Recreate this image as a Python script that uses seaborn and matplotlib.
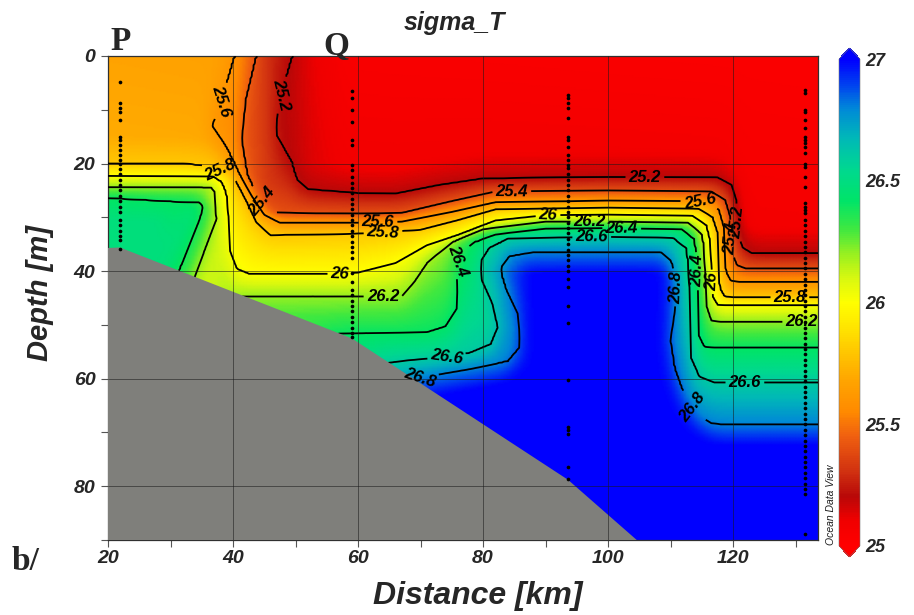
import numpy as np
import pandas as pd
import matplotlib
matplotlib.use("Agg")
import matplotlib.pyplot as plt
from matplotlib.colors import LinearSegmentedColormap, Normalize
from matplotlib.cm import ScalarMappable
from matplotlib.patches import Polygon
import seaborn as sns

# ---------------------------------------------------------------- data
levels = [25.2, 25.4, 25.6, 25.8, 26.0, 26.2, 26.4, 26.6, 26.8]

# isopycnal traces along the section: (distance km, depth m)
iso_25_2 = [(49.6, -1.0), (47.3, 8.7), (46.8, 14.4), (49.2, 19.4), (50.2, 23.0), (52.0, 24.8),
            (60.0, 25.5), (66.0, 25.6), (73.0, 24.0), (80.0, 22.8), (100.0, 22.5), (117.5, 22.6),
            (119.8, 24.0), (120.6, 27.0), (120.8, 33.0), (121.5, 35.6), (123.0, 36.7), (136.0, 36.7)]
iso_25_4 = [(43.8, -1.0), (42.0, 8.0), (41.4, 15.6), (42.2, 22.0), (44.0, 26.5), (46.5, 29.2),
            (60.0, 29.3), (67.0, 29.2), (75.0, 27.0), (82.0, 25.2), (100.0, 25.0), (116.5, 25.2),
            (118.8, 26.8), (119.6, 30.0), (119.8, 36.5), (120.6, 38.9), (122.0, 39.5), (136.0, 39.5)]
iso_25_6 = [(40.4, -1.0), (37.8, 9.5), (36.7, 13.0), (38.9, 17.0), (41.0, 22.0), (43.0, 26.0),
            (45.0, 29.5), (47.5, 31.0), (60.0, 31.0), (67.0, 30.8), (75.0, 29.0), (82.0, 27.2),
            (100.0, 26.9), (115.5, 27.0), (117.8, 28.6), (118.6, 32.0), (118.8, 40.0), (119.6, 41.8),
            (121.0, 42.0), (136.0, 42.0)]
iso_25_8 = [(19.0, 20.0), (32.0, 20.0), (36.5, 20.6), (39.2, 21.8), (40.4, 23.0), (42.2, 27.0),
            (43.8, 31.0), (46.0, 33.3), (60.0, 33.0), (66.0, 32.6), (70.0, 32.3), (76.0, 30.5),
            (82.0, 28.5), (100.0, 28.2), (114.5, 28.4), (116.8, 30.0), (117.6, 33.0), (117.8, 43.0),
            (118.6, 44.7), (120.0, 44.9), (136.0, 44.9)]
iso_26_0 = [(19.0, 22.3), (36.8, 22.4), (38.2, 23.3), (39.0, 25.5), (39.3, 30.0), (39.5, 36.2),
            (40.6, 39.6), (42.5, 40.5), (57.0, 40.5), (60.0, 40.3), (66.0, 38.5), (71.0, 35.2),
            (76.0, 33.3), (82.0, 30.6), (90.0, 29.6), (100.0, 29.5), (113.5, 29.7), (115.8, 31.5),
            (116.5, 35.0), (116.6, 44.5), (117.5, 46.3), (136.0, 46.3)]
iso_26_2_pool = [(19.0, 24.4), (36.5, 24.4), (37.2, 25.4), (37.3, 30.5), (34.1, 40.4), (32.0, 47.0)]
iso_26_2 = [(37.5, 47.5), (41.5, 44.7), (67.0, 44.7), (69.0, 42.0), (71.0, 38.5), (75.0, 34.6),
            (80.0, 32.2), (90.0, 30.8), (100.0, 30.8), (112.8, 31.0), (115.0, 33.0), (115.5, 36.0),
            (115.6, 46.0), (116.5, 49.2), (118.0, 49.4), (136.0, 49.4)]
iso_26_4_pool = [(19.0, 26.3), (30.0, 27.0), (34.6, 27.2), (35.2, 28.0), (34.6, 30.5), (31.4, 40.0),
                 (29.5, 46.0)]
iso_26_4 = [(53.0, 53.0), (57.0, 51.6), (71.0, 51.4), (74.0, 50.3), (75.8, 47.0), (76.0, 43.0),
            (75.6, 39.0), (76.5, 36.5), (78.5, 34.6), (82.0, 33.2), (90.0, 32.1), (100.0, 32.0),
            (111.8, 32.2), (113.8, 34.0), (114.4, 38.0), (114.5, 52.0), (115.4, 54.1), (117.0, 54.2),
            (136.0, 54.2)]
iso_26_6 = [(61.5, 59.0), (64.5, 57.1), (68.0, 56.6), (74.0, 56.0), (78.0, 55.2), (81.3, 53.6),
            (82.3, 50.5), (81.5, 46.0), (79.8, 41.5), (79.6, 38.2), (81.0, 35.6), (84.0, 33.9),
            (100.0, 33.6), (110.5, 33.8), (112.6, 35.8), (113.0, 40.0), (113.2, 56.0), (114.6, 59.6),
            (117.0, 60.7), (136.0, 60.7)]
iso_26_8 = [(66.0, 63.0), (68.5, 60.2), (72.0, 59.4), (78.0, 58.2), (84.0, 56.8), (86.0, 54.0),
            (85.6, 48.0), (83.8, 43.5), (82.8, 39.5), (84.2, 37.2), (88.0, 36.5), (108.5, 36.5),
            (110.2, 38.2), (111.0, 42.0), (110.6, 48.0), (110.0, 53.0), (110.6, 58.0), (112.0, 62.5),
            (114.0, 66.4), (116.5, 68.3), (118.0, 68.5), (136.0, 68.5)]

isopycnals = [(25.2, iso_25_2), (25.4, iso_25_4), (25.6, iso_25_6), (25.8, iso_25_8),
              (26.0, iso_26_0), (26.2, iso_26_2_pool), (26.2, iso_26_2), (26.4, iso_26_4_pool),
              (26.4, iso_26_4), (26.6, iso_26_6), (26.8, iso_26_8)]

# sigma-T at the sea surface and in the deepest water along the section
surf_km = [19.5, 37.5, 40.2, 40.6, 42.1, 43.6, 44.0, 45.5, 47.5, 49.4, 49.8, 52.0, 58.0, 136.0]
surf_sigma = [25.67, 25.66, 25.62, 25.58, 25.50, 25.42, 25.38, 25.30, 25.24, 25.21, 25.19, 25.12,
              25.05, 25.03]
deep_km = [19.5, 30.8, 31.8, 39.4, 39.8, 52.5, 53.5, 61.0, 62.0, 65.5, 66.5, 136.0]
deep_sigma = [26.48, 26.48, 26.10, 26.10, 26.30, 26.30, 26.50, 26.50, 26.70, 26.70, 27.00, 27.00]

# sea floor
bathy_km = [18.0, 21.9, 59.0, 93.6, 104.6, 140.0]
bathy_m = [35.8, 35.6, 52.5, 78.8, 90.0, 90.0]

# CTD stations and their sample depths
station_km = [21.9, 59.0, 93.6, 131.5]
depths_P = [4.8, 8.8, 9.7, 10.4, 11.9, 15.0, 15.6, 16.6, 17.5, 18.4, 19.3, 20.0, 21.0, 22.0, 23.0,
            24.0, 25.0, 26.0, 27.0, 28.0, 29.0, 30.5, 31.5, 32.5, 33.5, 34.2, 35.8]
depths_Q = [6.6, 7.8, 10.0, 12.2, 15.6, 16.6, 20.3, 21.2, 22.5, 23.7, 24.5, 25.5, 26.5, 27.5, 28.5,
            29.5, 30.5, 31.5, 32.5, 33.5, 34.5, 35.5, 36.5, 37.5, 40.4, 42.0, 43.6, 44.5, 45.5,
            46.5, 47.5, 48.5, 49.5, 50.5, 51.5, 52.3]
depths_3 = [7.3, 7.9, 8.8, 9.7, 11.5, 15.0, 15.6, 16.9, 18.4, 19.4, 20.3, 20.9, 22.0, 23.0, 24.0,
            25.0, 26.0, 27.0, 28.0, 29.0, 30.0, 31.0, 32.0, 33.0, 34.0, 35.0, 36.0, 37.0, 38.0,
            39.0, 40.0, 41.4, 43.0, 46.4, 49.7, 60.3, 69.0, 69.6, 70.2, 76.5, 78.6]
depths_4 = [6.3, 6.9, 10.0, 10.4, 11.9, 13.4, 15.0, 15.6, 16.2, 16.9, 18.1, 20.0, 20.6, 22.5, 24.4,
            27.4, 28.1, 28.7, 29.2, 30.5, 31.5, 32.5, 33.5, 34.5, 35.5, 36.5, 37.5, 38.5, 39.5,
            40.5, 41.5, 42.5, 43.5, 44.5, 45.5, 46.5, 47.5, 48.5, 49.5, 50.5, 51.5, 52.5, 53.5,
            54.5, 55.5, 56.5, 57.5, 58.5, 59.5, 60.5, 61.5, 62.5, 63.5, 64.5, 65.5, 66.5, 67.5,
            68.5, 69.5, 70.5, 71.5, 72.5, 73.5, 74.5, 75.5, 76.5, 77.5, 78.5, 79.5, 80.5, 81.5, 88.8]
station_depths = [depths_P, depths_Q, depths_3, depths_4]

# where the contour values are written on the lines
label_spots = {
    25.2: [(48.0, 7.3), (105.9, 22.6), (120.7, 31.0)],
    25.4: [(44.2, 27.6), (84.6, 25.1), (119.7, 34.0)],
    25.6: [(38.4, 8.5), (63.2, 30.9), (114.7, 27.0)],
    25.8: [(38.0, 21.2), (64.0, 32.8), (129.1, 44.9)],
    26.0: [(57.1, 40.5), (90.4, 29.6), (116.6, 42.0)],
    26.2: [(64.0, 44.7), (97.1, 30.8), (131.0, 49.4)],
    26.4: [(75.9, 38.0), (102.2, 32.0), (114.4, 40.0)],
    26.6: [(74.2, 56.0), (97.4, 33.6), (121.9, 60.7)],
    26.8: [(69.9, 60.0), (111.0, 43.0), (113.9, 65.0)],
}

# ---------------------------------------------------------------- gridding
xs = 19.537 + 0.25 * np.arange(460)
zs = np.linspace(0.0, 90.0, 361)


def crossings_at(x):
    found = []
    for lev, trace in isopycnals:
        pts = np.asarray(trace, dtype=float)
        for (x0, d0), (x1, d1) in zip(pts[:-1], pts[1:]):
            lo, hi = min(x0, x1), max(x0, x1)
            if lo <= x < hi:
                d = d0 + (d1 - d0) * (x - x0) / (x1 - x0)
                found.append((d, lev))
    found.sort()
    return found


def column_profile(x):
    cr = crossings_at(x)
    s0 = float(np.interp(x, surf_km, surf_sigma))
    sd = float(np.interp(x, deep_km, deep_sigma))
    dep, val = [0.0], [s0]
    if cr and cr[0][0] > 2.0:
        d1, l1 = cr[0]
        dep.append(max(d1 - 5.0, 0.6 * d1))
        val.append(s0 + 0.25 * (l1 - s0))
    for i, (d, lev) in enumerate(cr):
        if i > 0 and cr[i - 1][1] == lev:
            step = float(np.clip(0.5 * (lev - val[-2]), -0.08, 0.08))
            dep.append(0.5 * (dep[-1] + max(d, dep[-1])) + 1e-4)
            val.append(lev + step)
        d = max(d, dep[-1] + 1e-3)
        dep.append(d)
        val.append(lev)
    dep += [dep[-1] + 4.0, 400.0]
    val += [sd, sd]
    return np.interp(zs, dep, val)


field = np.column_stack([column_profile(x) for x in xs])


def soften(a, sx=5.0, sz=1.5):
    """Gaussian smoothing of the colour layer (grid units)."""
    out = a.copy()
    for axis, s in ((1, sx), (0, sz)):
        n = int(3 * s)
        k = np.exp(-0.5 * (np.arange(-n, n + 1) / s) ** 2)
        k /= k.sum()
        pad = [(0, 0), (0, 0)]
        pad[axis] = (n, n)
        p = np.pad(out, pad, mode="edge")
        out = np.apply_along_axis(lambda r: np.convolve(r, k, mode="valid"), axis, p)
    return out


colour_field = soften(field)

# ---------------------------------------------------------------- style
sns.set_theme(style="ticks")
plt.rcParams.update({
    "font.family": ["Liberation Sans", "DejaVu Sans"],
    "font.weight": "bold",
    "font.style": "italic",
    "axes.labelweight": "bold",
})

odv_colors = [
    (0.00, "#ff0000"), (0.05, "#f00000"), (0.10, "#b80808"), (0.15, "#d03010"),
    (0.225, "#f06010"), (0.275, "#ff8a00"), (0.34, "#ffa500"), (0.40, "#ffc800"),
    (0.45, "#ffe600"), (0.50, "#ffff00"), (0.55, "#d8f810"), (0.60, "#98f020"),
    (0.65, "#40e840"), (0.71, "#00e468"), (0.775, "#00d890"), (0.84, "#00b8b8"),
    (0.90, "#0088d8"), (0.95, "#0040f0"), (1.00, "#0000ff"),
]
cmap = LinearSegmentedColormap.from_list("odv_sigma", odv_colors)
norm = Normalize(vmin=25.0, vmax=27.0)

fig = plt.figure(figsize=(9.14, 6.15), dpi=100)
ax = fig.add_axes([108 / 914, 1 - 540 / 615, 710 / 914, 484 / 615])

ax.pcolormesh(xs, zs, colour_field, cmap=cmap, norm=norm, shading="gouraud", zorder=1)


def fmt(v):
    return f"{v:g}"


for lev in levels:
    cs = ax.contour(xs, zs, field, levels=[lev], colors="black", linewidths=1.3, zorder=3)
    ax.clabel(cs, manual=label_spots[lev], inline=True, inline_spacing=3, fmt=fmt, fontsize=12)

seafloor = list(zip(bathy_km, bathy_m)) + [(140.0, 100.0), (18.0, 100.0)]
ax.add_patch(Polygon(seafloor, closed=True, facecolor="#7f7f7b", edgecolor="none", zorder=4.5))

for gx in [40, 60, 80, 100, 120]:
    ax.axvline(gx, color="#1a1a1a", lw=0.7, alpha=0.55, zorder=5)
for gy in [20, 40, 60, 80]:
    ax.axhline(gy, color="#1a1a1a", lw=0.7, alpha=0.55, zorder=5)

samples = pd.DataFrame({
    "km": np.concatenate([[x] * len(d) for x, d in zip(station_km, station_depths)]),
    "depth": np.concatenate(station_depths),
})
sns.scatterplot(data=samples, x="km", y="depth", color="black", s=7, linewidth=0,
                legend=False, ax=ax, zorder=6)

ax.set_xlim(20, 133.6)
ax.set_ylim(90, 0)
ax.set_xticks([20, 40, 60, 80, 100, 120])
ax.set_xticks([30, 50, 70, 90, 110, 130], minor=True)
ax.set_yticks([0, 20, 40, 60, 80])
ax.set_yticks([10, 30, 50, 70, 90], minor=True)
ax.tick_params(which="both", direction="out", length=5, width=0.8, color="#555555",
               labelsize=14)
ax.tick_params(axis="x", pad=2)
ax.tick_params(axis="y", pad=4)
for s in ax.spines.values():
    s.set_color("#303030")
    s.set_linewidth(0.9)
ax.set_xlabel("Distance [km]", fontsize=23)
ax.xaxis.set_label_coords((478 - 108) / 710, -(596 - 540) / 484, transform=ax.transAxes)
ax.xaxis.label.set_va("center")
ax.set_ylabel("Depth [m]", fontsize=21)
ax.yaxis.set_label_coords(-(108 - 40) / 710, (540 - 293) / 484, transform=ax.transAxes)
ax.yaxis.label.set_va("center")

fig.text(454 / 914, 1 - 23 / 615, "sigma_T", ha="center", va="center", fontsize=18)

cax = fig.add_axes([839 / 914, 1 - 557 / 615, 21 / 914, 509 / 615])
cb = fig.colorbar(ScalarMappable(norm=norm, cmap=cmap), cax=cax, extend="both",
                  extendfrac=0.023, ticks=[25, 25.5, 26, 26.5, 27])
cb.ax.set_yticklabels(["25", "25.5", "26", "26.5", "27"])
cb.ax.tick_params(length=0, labelsize=13, pad=4)
cb.outline.set_linewidth(0.4)
cb.outline.set_edgecolor("#777777")

fig.text(831 / 914, 1 - 505 / 615, "Ocean Data View", rotation=90, ha="center", va="center",
         fontsize=7.5, fontweight="normal", fontstyle="italic", color="#202020")

serif = ["Liberation Serif", "DejaVu Serif"]
fig.text(110 / 914, 1 - 50 / 615, "P", family=serif, fontweight="bold", fontstyle="normal",
         fontsize=24, va="baseline")
fig.text(323 / 914, 1 - 55 / 615, "Q", family=serif, fontweight="bold", fontstyle="normal",
         fontsize=24, va="baseline")
fig.text(12 / 914, 1 - 570 / 615, "b/", family=serif, fontweight="bold", fontstyle="normal",
         fontsize=24, va="baseline")

fig.savefig("out.png", dpi=100)
